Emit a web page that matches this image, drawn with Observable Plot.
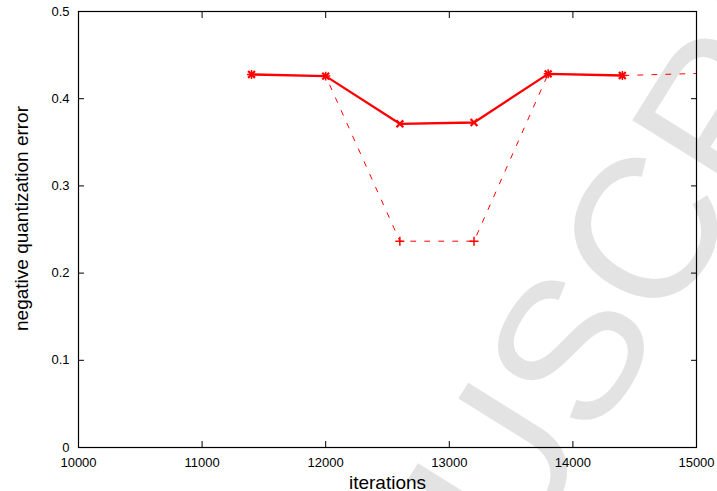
<!DOCTYPE html>
<html>
<head>
<meta charset="utf-8">
<script src="https://cdn.jsdelivr.net/npm/d3@7"></script>
<script src="https://cdn.jsdelivr.net/npm/@observablehq/plot@0.6"></script>
<style>
  html, body { margin: 0; padding: 0; background: white; }
  #chart { position: relative; width: 717px; height: 491px; overflow: hidden; }
</style>
</head>
<body>
<div id="chart"></div>
<script>
// Solid series (with × markers)
const iterSolid = [11400, 12000, 12600, 13200, 13800, 14400];
const errSolid  = [0.4278, 0.4259, 0.3712, 0.3727, 0.4285, 0.4266];
// Dashed series (with + markers)
const iterDashed = [11400, 12000, 12600, 13200, 13800, 14400, 15000];
const errDashed  = [0.4278, 0.4259, 0.2366, 0.2366, 0.4285, 0.4266, 0.4289];
// Axis ticks
const xTicks = [10000, 11000, 12000, 13000, 14000, 15000];
const yTicks = [0, 0.1, 0.2, 0.3, 0.4, 0.5];
const xLabel = "iterations";
const yLabel = "negative quantization error";
const watermark = "MANUSCRIPT";

const solid = iterSolid.map((x, i) => ({x, y: errSolid[i]}));
const dashed = iterDashed.map((x, i) => ({x, y: errDashed[i]}));
const xMax = d3.max(xTicks);

const red = "#ff0000";
const tickLen = 6;

const svg = Plot.plot({
  width: 717,
  height: 491,
  marginLeft: 78,
  marginRight: 21,
  marginTop: 11,
  marginBottom: 44,
  style: {fontFamily: "'Liberation Sans', Arial, Helvetica, sans-serif", fontSize: "13px", color: "black", background: "transparent"},
  x: {domain: [d3.min(xTicks), d3.max(xTicks)], ticks: xTicks},
  y: {domain: [d3.min(yTicks), d3.max(yTicks)], ticks: yTicks},
  marks: [
    // tick labels
    Plot.axisX(xTicks, {anchor: "bottom", tickSize: 0, tickPadding: 10, tickFormat: d => String(d), label: null}),
    Plot.axisY(yTicks, {anchor: "left", tickSize: 0, tickPadding: 9, tickFormat: d => String(d), label: null}),
    // inward ticks on all four sides
    Plot.axisX(xTicks, {anchor: "bottom", tickSize: tickLen, dy: -tickLen, tickFormat: () => "", label: null, strokeWidth: 1}),
    Plot.axisX(xTicks, {anchor: "top", tickSize: tickLen, dy: tickLen, tickFormat: () => "", label: null, strokeWidth: 1}),
    Plot.axisY(yTicks, {anchor: "left", tickSize: tickLen, dx: tickLen, tickFormat: () => "", label: null, strokeWidth: 1}),
    Plot.axisY(yTicks, {anchor: "right", tickSize: tickLen, dx: -tickLen, tickFormat: () => "", label: null, strokeWidth: 1}),
    // axis titles
    Plot.text([xLabel], {frameAnchor: "bottom", dy: 41, lineAnchor: "bottom", textAnchor: "middle", fontSize: 19, text: d => d}),
    Plot.text([yLabel], {frameAnchor: "left", dx: -51, dy: -11, rotate: -90, lineAnchor: "bottom", textAnchor: "middle", fontSize: 19, text: d => d}),
    // data
    Plot.line(dashed, {x: "x", y: "y", stroke: red, strokeWidth: 1, strokeDasharray: "5,9"}),
    Plot.dot(dashed.filter(d => d.x < xMax), {x: "x", y: "y", symbol: "plus", r: 3, stroke: red, strokeWidth: 1.5}),
    Plot.line(solid, {x: "x", y: "y", stroke: red, strokeWidth: 2.3}),
    Plot.dot(solid, {x: "x", y: "y", symbol: "times", r: 3.2, stroke: red, strokeWidth: 2.2}),
    Plot.frame({stroke: "black", strokeWidth: 1.2})
  ]
});

// faint diagonal watermark behind the plot
const wm = document.createElementNS("http://www.w3.org/2000/svg", "text");
wm.textContent = watermark;
wm.setAttribute("transform", "translate(281,942) rotate(-58)");
wm.setAttribute("font-size", "200");
wm.setAttribute("text-anchor", "start");
wm.setAttribute("font-family", "'Liberation Sans', Arial, sans-serif");
wm.setAttribute("fill", "#e3e3e3");
wm.setAttribute("stroke", "none");
const firstG = svg.querySelector("g");
svg.insertBefore(wm, firstG);

document.getElementById("chart").appendChild(svg);
</script>
</body>
</html>
